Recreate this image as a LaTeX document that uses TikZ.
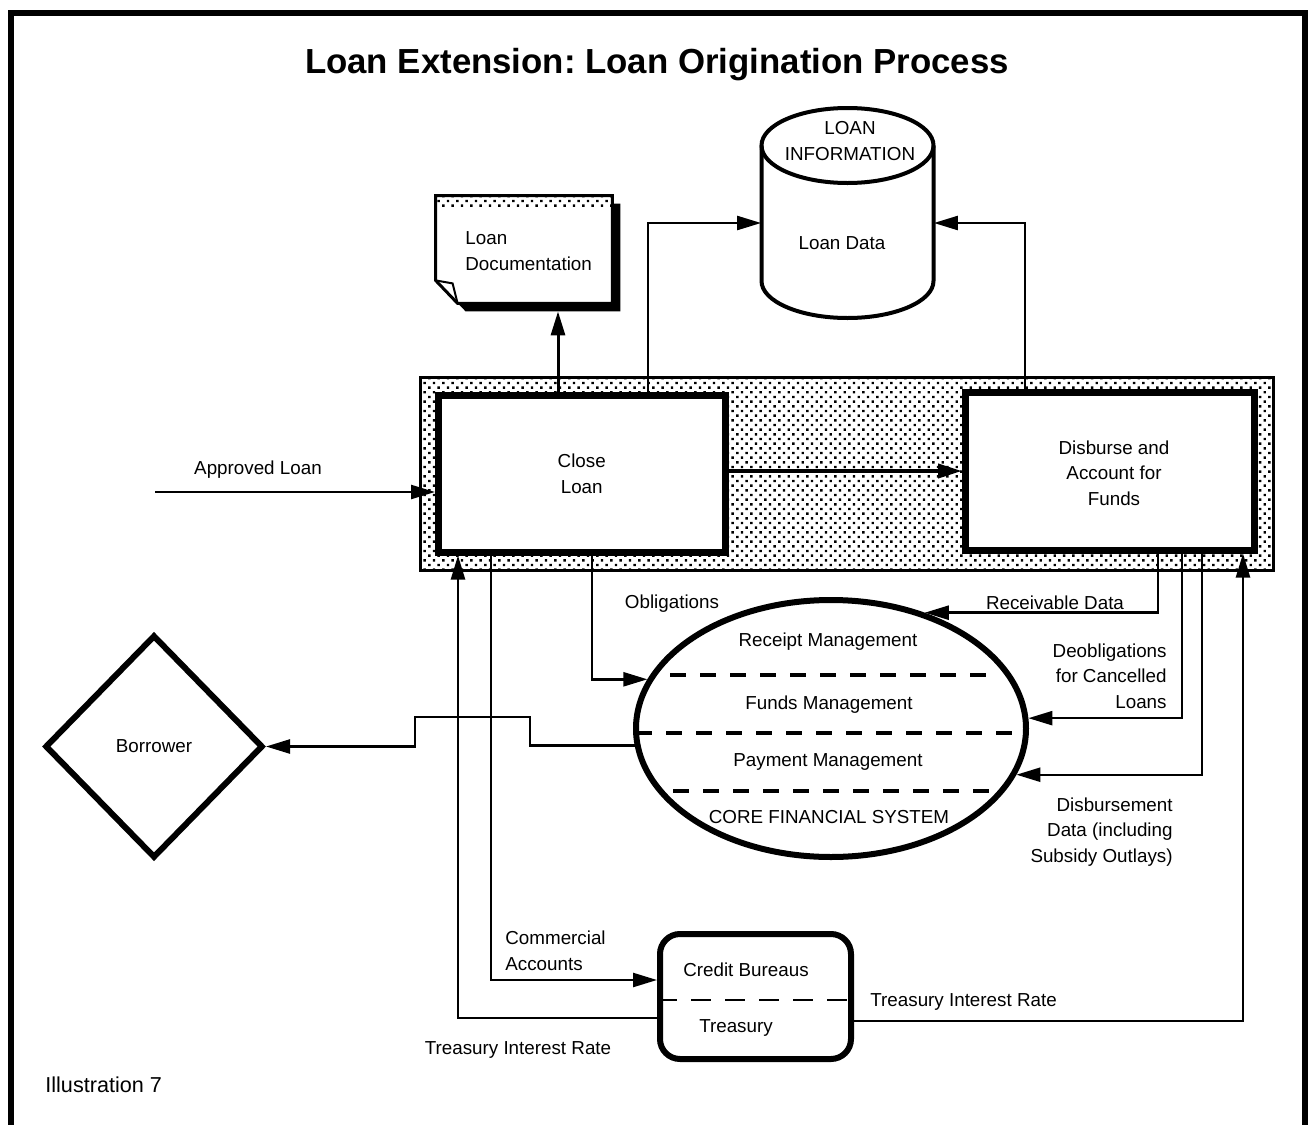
\documentclass[tikz,border=0pt]{standalone}
\usepackage{fontspec}
\setmainfont{Liberation Sans}
\usetikzlibrary{arrows.meta,shapes.geometric,patterns.meta,calc}
\frenchspacing

\begin{document}
\begin{tikzpicture}[x=0.5pt,y=-0.5pt,
  >={Triangle[length=12pt,width=7pt]},
  lbl/.style={inner sep=0pt, align=center, font=\fontsize{9.4}{12.8}\selectfont},
  flow/.style={line width=1.2pt,->},
  procbox/.style={draw, fill=white, line width=3.5pt, inner sep=0pt, align=center,
                  font=\fontsize{9.4}{12.8}\selectfont},
  speckle/.style={pattern={Dots[distance=3.3pt,radius=0.85pt,angle=45]}},
  divider/.style={dash pattern=on 8pt off 7pt, line width=2pt},
]
\useasboundingbox (0,0) rectangle (1308,1125);

% page frame
\draw[line width=3pt] (11,1125) -- (11,13) -- (1305,13) -- (1305,1125);

\node[font=\fontsize{17.4}{20}\selectfont\bfseries] (title) at (657,65)
  {Loan Extension: Loan Origination Process};

% shaded band holding the two processes
\node[draw, line width=1.5pt, speckle, minimum width=426.75pt, minimum height=96.5pt,
      inner sep=0pt] (band) at (846.75,474) {};
\node[procbox, minimum width=143.25pt, minimum height=78.25pt] (close) at (581.75,473.75) {Close\\Loan};
\node[procbox, minimum width=144.25pt, minimum height=79pt] (disburse) at (1109.75,471) {};
\node[lbl] (disbtext) at (1114,473) {Disburse and\\Account for\\Funds};

% document with shadow and folded corner
\node[minimum width=88pt, minimum height=53.5pt, inner sep=0pt] (docsh) at (532,257.5) {};
\node[minimum width=88pt, minimum height=53.5pt, inner sep=0pt] (doc) at (524,249.5) {};
\fill (docsh.north west) -- (docsh.north east) -- (docsh.south east)
  -- ($(docsh.south west)+(22,0)$) -- ($(docsh.south west)+(0,-23)$) -- cycle;
\fill[white] (doc.north west) -- (doc.north east) -- (doc.south east)
  -- ($(doc.south west)+(22,0)$) -- ($(doc.south west)+(0,-23)$) -- cycle;
\fill[speckle] (doc.north west) rectangle ($(doc.north east)+(0,12)$);
\draw[line width=1.5pt] (doc.north west) -- (doc.north east) -- (doc.south east)
  -- ($(doc.south west)+(22,0)$) -- ($(doc.south west)+(0,-23)$) -- cycle;
\draw[line width=1pt] ($(doc.south west)+(0,-23)$) -- ($(doc.south west)+(17,-20)$)
  -- ($(doc.south west)+(22,0)$);
\node[lbl, anchor=west, align=left] (doctext) at (465,251) {Loan\\Documentation};

% data store cylinder
\node[minimum width=86pt, minimum height=105pt, inner sep=0pt] (db) at (847.5,213) {};
\draw[line width=2pt] (761.5,145.5) -- (761.5,281)
  arc[start angle=180, end angle=360, x radius=43pt, y radius=18.5pt] -- (933.5,145.5);
\draw[line width=2pt] (847.5,145.5) ellipse[x radius=43pt, y radius=18.75pt];
\node[lbl] (dbtop) at (850,141) {LOAN\\INFORMATION};
\node[lbl] (dbbody) at (842,243) {Loan Data};

% core financial system
\node[ellipse, draw, line width=3pt, minimum width=195pt, minimum height=128.5pt,
      inner sep=0pt] (cfs) at (831,728.5) {};
\draw[divider] (670,675) -- (998,675);
\draw[divider] (636,733) -- (1024,733);
\draw[divider] (673,791) -- (997,791);
\node[lbl] (rcpt) at (828,642) {Receipt Management};
\node[lbl] (fund) at (829,705) {Funds Management};
\node[lbl] (pay) at (828,762) {Payment Management};
\node[lbl] (core) at (829,817) {CORE FINANCIAL SYSTEM};

% borrower
\node[diamond, draw, line width=3pt, minimum width=109pt, minimum height=111.5pt,
      inner sep=0pt, font=\fontsize{9.4}{12.8}\selectfont] (borrower) at (154,746.5) {Borrower};

% credit bureaus / treasury
\node[draw, line width=3pt, rounded corners=10pt, minimum width=95.5pt, minimum height=62.5pt,
      inner sep=0pt] (cb) at (755.5,996.5) {};
\draw[line width=1pt, dash pattern=on 10pt off 7pt] (cb.west |- 0,1000) -- (cb.east |- 0,1000);
\node[lbl] (cbtop) at (746,970) {Credit Bureaus};
\node[lbl] (cbbot) at (736,1028) {Treasury};

% connectors
\coordinate (approvedIn) at (155,492);
\draw[flow] (approvedIn) -- (close.west |- approvedIn);
\draw[flow, line width=2pt] (close.east |- disburse.west) -- (disburse.west);
\draw[flow, line width=1.5pt] (close.north -| 558,0) -- (docsh.south -| 558,0);
\draw[flow] (close.north -| 648,0) |- (db.west |- 0,223);
\draw[flow] (disburse.north -| 1025,0) |- (db.east |- 0,223);
\draw[flow] (close.south -| 592,0) |- (cfs.165);
\draw[flow] (disburse.south -| 1158,0) |- (cfs.51);
\draw[flow] (disburse.south -| 1182,0) |- (cfs.3);
\draw[flow] (disburse.south -| 1202,0) |- (cfs.346);
\draw[flow] (cb.east |- 0,1021) -| (disburse.south -| 1243,0);
\draw[flow] (cb.west |- 0,1018) -| (close.south -| 458,0);
\draw[flow] (close.south -| 491,0) |- (cb.west |- 0,980);
\draw[flow] (cfs.185) -- (cfs.185 -| 530,0) |- (415,717) |- (borrower.east);

% connector labels
\node[lbl] (lblApproved) at (258,470) {Approved Loan};
\node[lbl] (lblOblig) at (672,604) {Obligations};
\node[lbl] (lblRecv) at (1055,603) {Receivable Data};
\node[lbl, anchor=east, align=right] (lblDeob) at (1167,676) {Deobligations\\for Cancelled\\Loans};
\node[lbl, anchor=east, align=right] (lblDisb) at (1173,832) {Disbursement\\Data (including\\Subsidy Outlays)};
\node[lbl, anchor=west] (lblTreasR) at (870,1002) {Treasury Interest Rate};
\node[lbl, anchor=west, align=left] (lblComm) at (505,951) {Commercial\\Accounts};
\node[lbl] (lblTreasL) at (518,1050) {Treasury Interest Rate};
\node[lbl, anchor=west, font=\fontsize{10.8}{13}\selectfont] (illus) at (45,1085) {Illustration 7};
\end{tikzpicture}
\end{document}
